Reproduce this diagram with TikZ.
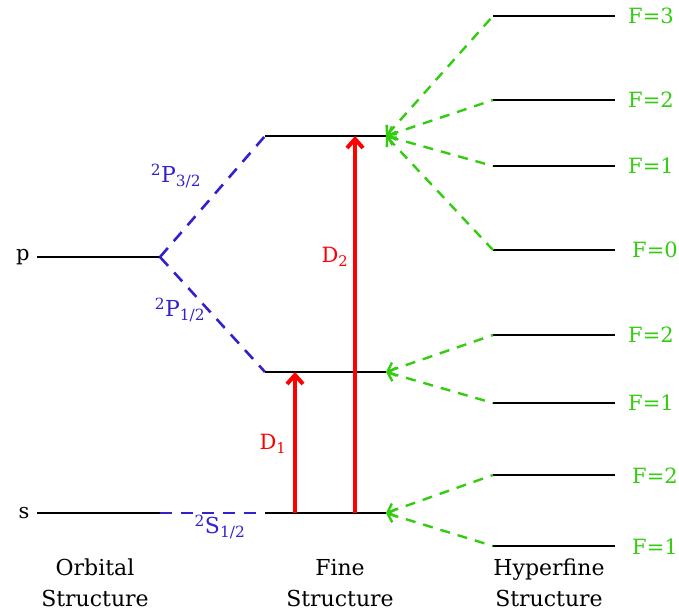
\documentclass[tikz,border=0pt]{standalone}
\usepackage{fontspec}
\setmainfont{DejaVu Serif}
\usetikzlibrary{arrows.meta,positioning}
\definecolor{orb}{HTML}{3322CC}
\definecolor{hfs}{HTML}{33CC11}
\newcommand{\term}[3]{\textsuperscript{#1}#2\textsubscript{#3}}
\tikzset{
  lvl/.style={line width=2.6pt,draw=black},
  fsline/.style={line width=2.6pt,dash pattern=on 12pt off 9pt,draw=orb},
  hfline/.style={line width=2.4pt,dash pattern=on 10pt off 8pt,draw=hfs,{Straight Barb[length=7pt,width=14pt]}-},
  trans/.style={line width=4pt,draw=red,-{Straight Barb[length=9pt,width=16pt]}},
  flab/.style={text=hfs,anchor=west,inner sep=0pt},
  tlab/.style={text=orb,font=\fontsize{22}{24}\selectfont},
  caption/.style={align=center,font=\fontsize{22}{31}\selectfont},
}
\begin{document}
\begin{tikzpicture}[x=1pt,y=-1pt,font=\fontsize{21}{24}\selectfont]
\useasboundingbox (0,0) rectangle (679,614);
% orbital structure
\coordinate (pL) at (37,257); \coordinate (pR) at (160,257);
\coordinate (sL) at (37,513); \coordinate (sR) at (160,513);
\draw[lvl] (pL) -- (pR); \draw[lvl] (sL) -- (sR);
\node[left=4pt of pL] (plab) {p};
\node[left=4pt of sL] (slab) {s};
% fine structure
\coordinate (P3L) at (265,136); \coordinate (P3R) at (386,136);
\coordinate (P1L) at (265,372); \coordinate (P1R) at (386,372);
\coordinate (S1L) at (265,513); \coordinate (S1R) at (386,513);
\draw[fsline] (pR) -- (P3L); \draw[fsline] (pR) -- (P1L); \draw[fsline] (sR) -- (S1L);
\draw[lvl] (P3L) -- (P3R); \draw[lvl] (P1L) -- (P1R); \draw[lvl] (S1L) -- (S1R);
\node[tlab] (p3lab) at (176,176) {\term{2}{P}{3/2}};
\node[tlab] (p1lab) at (180,310) {\term{2}{P}{1/2}};
\node[tlab] (s1lab) at (220,527) {\term{2}{S}{1/2}};
% D lines
\coordinate (d1a) at (295,513); \coordinate (d1b) at (295,372);
\coordinate (d2a) at (355,513); \coordinate (d2b) at (355,136);
\draw[trans] (d1a) -- (d1b);
\draw[trans] (d2a) -- (d2b);
\node[text=red] (d1lab) at (273,444) {D\textsubscript{1}};
\node[text=red] (d2lab) at (335,257) {D\textsubscript{2}};
% hyperfine structure
\foreach \n/\y/\f/\src in {h1/16/3/P3,h2/100/2/P3,h3/166/1/P3,h4/250/0/P3,
                           h5/335/2/P1,h6/403/1/P1,h7/475/2/S1,h8/546/1/S1}{
  \coordinate (\n) at (493,\y);
  \draw[lvl] (\n) -- ++(122,0);
  \draw[hfline] (\src R) -- (\n);
}
\node[flab] (f1) at (628,16) {F=3};
\node[flab] (f2) at (628,100) {F=2};
\node[flab] (f3) at (628,166) {F=1};
\node[flab] (f4) at (632,250) {F=0};
\node[flab] (f5) at (628,335) {F=2};
\node[flab] (f6) at (628,403) {F=1};
\node[flab] (f7) at (632,476) {F=2};
\node[flab] (f8) at (632,547) {F=1};
% captions
\node[caption] (orbcap) at (95,583) {Orbital\\Structure};
\node[caption] (fincap) at (340,583) {Fine\\Structure};
\node[caption] (hypcap) at (549,583) {Hyperfine\\Structure};
\end{tikzpicture}
\end{document}
